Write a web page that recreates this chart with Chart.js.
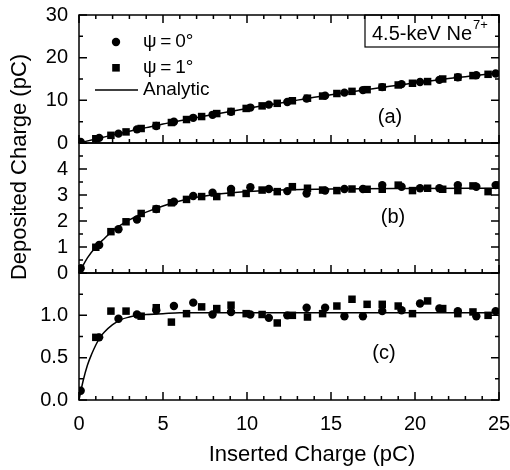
<!DOCTYPE html>
<html>
<head>
<meta charset="utf-8">
<script src="https://cdn.jsdelivr.net/npm/chart.js@4.4.0/dist/chart.umd.min.js"></script>
<style>
  html, body { margin: 0; padding: 0; background: #fff; }
  #wrap { width: 510px; height: 470px; }
</style>
</head>
<body>
<div id="wrap"><canvas id="chargeChart" width="510" height="470"></canvas></div>
<script>
// Inserted charge (pC) of each measurement, psi = 0 deg (circles) and psi = 1 deg (squares)
const circleX = [0.1, 1.2, 2.35, 3.45, 4.6, 5.65, 6.8, 7.95, 9.05, 10.2, 11.3, 12.4, 13.55, 14.65, 15.8, 16.9, 18.05, 19.2, 20.3, 21.45, 22.55, 23.65, 24.8];
const squareX = [1.0, 1.9, 2.8, 3.7, 4.6, 5.5, 6.4, 7.3, 8.2, 9.05, 9.95, 10.9, 11.8, 12.7, 13.6, 14.5, 15.35, 16.25, 17.15, 18.05, 19.0, 19.85, 20.75, 21.65, 22.55, 23.45, 24.35];

// (a) deposited charge
const circleA = [0.25, 1.2, 2.2, 3.2, 4.0, 5.0, 5.9, 6.6, 7.3, 8.3, 9.0, 9.6, 10.4, 11.1, 11.8, 12.4, 13.1, 13.8, 14.3, 14.8, 15.4, 15.9, 16.3];
const squareA = [1.0, 1.8, 2.6, 3.4, 4.1, 4.8, 5.5, 6.2, 6.9, 7.4, 8.1, 8.7, 9.3, 9.9, 10.5, 11.0, 11.6, 12.1, 12.5, 13.1, 13.6, 14.0, 14.4, 15.0, 15.4, 15.8, 16.1];
// (b)
const circleB = [0.18, 1.08, 1.68, 2.06, 2.46, 2.74, 2.96, 3.09, 3.23, 3.30, 3.23, 3.15, 3.06, 3.17, 3.23, 3.23, 3.38, 3.32, 3.26, 3.26, 3.38, 3.32, 3.38];
const squareB = [0.99, 1.59, 1.97, 2.29, 2.46, 2.70, 2.83, 2.94, 2.94, 3.09, 3.06, 3.19, 3.13, 3.32, 3.26, 3.19, 3.17, 3.23, 3.22, 3.22, 3.38, 3.17, 3.26, 3.22, 3.17, 3.35, 3.13];
// (c)
const circleC = [0.11, 0.74, 0.96, 1.01, 1.06, 1.11, 1.15, 1.01, 1.04, 1.01, 0.97, 1.00, 1.09, 1.09, 0.99, 0.99, 1.05, 1.06, 1.14, 1.08, 1.05, 0.99, 1.05];
const squareC = [0.74, 1.05, 1.05, 0.99, 1.09, 0.92, 1.02, 1.10, 1.08, 1.12, 1.02, 1.01, 0.91, 1.00, 0.98, 1.02, 1.11, 1.19, 1.13, 1.13, 1.11, 1.02, 1.17, 1.08, 1.02, 1.04, 1.00];

// Analytic curves
const fitXA = [0, 1, 2, 3, 4, 5, 6, 7, 8, 9, 10, 11, 12, 13, 14, 15, 16, 17, 18, 19, 20, 21, 22, 23, 24, 25];
const fitA = [0, 0.95, 1.85, 2.75, 3.6, 4.45, 5.2, 5.95, 6.7, 7.4, 8.1, 8.75, 9.4, 10.05, 10.7, 11.3, 11.9, 12.45, 13.0, 13.55, 14.1, 14.6, 15.1, 15.55, 16.0, 16.4];
const fitXB = [0, 0.5, 1, 1.5, 2, 2.5, 3, 3.5, 4, 5, 6, 7, 8, 10, 12, 15, 20, 25];
const fitB = [0, 0.58, 1.0, 1.32, 1.62, 1.85, 2.04, 2.2, 2.34, 2.58, 2.77, 2.91, 3.01, 3.13, 3.19, 3.23, 3.25, 3.26];
const fitXC = [0, 0.25, 0.5, 0.75, 1, 1.25, 1.5, 2, 2.5, 3, 3.5, 4, 5, 6, 8, 12, 16, 20, 25];
const fitC = [0, 0.23, 0.41, 0.54, 0.65, 0.74, 0.8, 0.89, 0.95, 0.98, 1.0, 1.01, 1.02, 1.03, 1.03, 1.03, 1.03, 1.03, 1.03];

// Axis ranges: [min, max, major step, minor step]
const xRange = [0, 25, 5, 1];
const rangeA = [0, 30, 10, 5];
const rangeB = [0, 5, 1, 0.5];
const rangeC = [0, 1.5, 0.5, 0.25];

const FONT = '"Liberation Sans", Arial, Helvetica, sans-serif';
const INK = "#000";

function pts(xs, ys) {
  return xs.map((x, i) => ({ x: x, y: ys[i] }));
}

function markers(xs, ys, axis, style) {
  return {
    data: pts(xs, ys),
    yAxisID: axis,
    pointStyle: style,
    pointRadius: style === "rect" ? 5.3 : 4.2,
    backgroundColor: INK,
    borderColor: INK,
    borderWidth: 0,
  };
}

function curve(xs, ys, axis) {
  return {
    data: pts(xs, ys),
    yAxisID: axis,
    showLine: true,
    pointRadius: 0,
    borderColor: INK,
    borderWidth: 1.5,
    cubicInterpolationMode: "monotone",
    fill: false,
  };
}

// tick labels may hang past the plot edges without shrinking it
function noOverhang(s) {
  s.paddingTop = 0;
  s.paddingBottom = 0;
  s.paddingLeft = 0;
  s.paddingRight = 0;
}

function yAxis(range, weight, fmt) {
  return {
    type: "linear",
    position: "left",
    stack: "panels",
    stackWeight: weight,
    min: range[0],
    max: range[1],
    grid: { display: false, drawTicks: false },
    border: { display: false },
    ticks: {
      stepSize: range[2],
      autoSkip: false,
      padding: 11,
      color: INK,
      font: { family: FONT, size: 20 },
      callback: fmt,
    },
    afterFit: function (s) {
      s.width = 79;
      noOverhang(s);
    },
  };
}

// Boxes around each panel with inward tick marks on all sides
const panelFrames = {
  id: "panelFrames",
  afterDatasetsDraw(chart) {
    const { ctx, chartArea: ca, scales } = chart;
    const xs = scales.x;
    ctx.save();
    ctx.strokeStyle = INK;
    ctx.lineWidth = 1.5;

    const panels = [["ya", rangeA], ["yb", rangeB], ["yc", rangeC]];
    panels.forEach(([id, r], idx) => {
      const s = scales[id];
      ctx.strokeRect(ca.left, s.top, ca.right - ca.left, s.bottom - s.top);

      ctx.beginPath();
      for (let v = r[0]; v <= r[1] + 1e-9; v += r[3]) {
        const major = Math.abs(v / r[2] - Math.round(v / r[2])) < 1e-6;
        const len = major ? 8 : 4;
        const py = s.getPixelForValue(v);
        ctx.moveTo(ca.left, py); ctx.lineTo(ca.left + len, py);
        ctx.moveTo(ca.right, py); ctx.lineTo(ca.right - len, py);
      }
      for (let v = xRange[0]; v <= xRange[1] + 1e-9; v += xRange[3]) {
        const major = Math.abs(v / xRange[2] - Math.round(v / xRange[2])) < 1e-6;
        const len = major ? 8 : 4;
        const px = xs.getPixelForValue(v);
        ctx.moveTo(px, s.bottom); ctx.lineTo(px, s.bottom - len);
        if (idx === 0) { ctx.moveTo(px, s.top); ctx.lineTo(px, s.top + len); }
      }
      ctx.stroke();
    });
    ctx.restore();
  },
  afterDraw(chart) {
    const { ctx, chartArea: ca } = chart;
    ctx.save();
    ctx.fillStyle = INK;
    ctx.strokeStyle = INK;

    // axis titles
    ctx.font = "22px " + FONT;
    ctx.textAlign = "center";
    ctx.textBaseline = "alphabetic";
    ctx.fillText("Inserted Charge (pC)", 312, 461);
    ctx.save();
    ctx.translate(26, 167);
    ctx.rotate(-Math.PI / 2);
    ctx.fillText("Deposited Charge (pC)", 0, 0);
    ctx.restore();

    // legend
    ctx.beginPath();
    ctx.arc(116, 42, 4.2, 0, Math.PI * 2);
    ctx.fill();
    ctx.fillRect(112.2, 64, 7.6, 7.6);
    ctx.lineWidth = 1.5;
    ctx.beginPath();
    ctx.moveTo(95, 90); ctx.lineTo(138, 90);
    ctx.stroke();
    ctx.font = "19px " + FONT;
    ctx.textAlign = "left";
    ctx.textBaseline = "middle";
    ctx.fillText("\u03c8\u2009=\u20090\u00b0", 143, 42);
    ctx.fillText("\u03c8\u2009=\u20091\u00b0", 143, 68);
    ctx.fillText("Analytic", 143, 90);

    // projectile label box
    ctx.lineWidth = 1.2;
    ctx.strokeRect(365, ca.top, ca.right - 365, 32);
    ctx.font = "20px " + FONT;
    ctx.textBaseline = "alphabetic";
    ctx.fillText("4.5-keV Ne", 372, 40);
    const w = ctx.measureText("4.5-keV Ne").width;
    ctx.font = "13px " + FONT;
    ctx.fillText("7+", 372 + w + 1, 29);

    // panel labels
    ctx.font = "20px " + FONT;
    ctx.textAlign = "center";
    ctx.textBaseline = "middle";
    ctx.fillText("(a)", 390, 117);
    ctx.fillText("(b)", 393, 217);
    ctx.fillText("(c)", 384, 353);
    ctx.restore();
  },
};

new Chart(document.getElementById("chargeChart"), {
  type: "scatter",
  data: {
    datasets: [
      markers(circleX, circleA, "ya", "circle"),
      markers(squareX, squareA, "ya", "rect"),
      markers(circleX, circleB, "yb", "circle"),
      markers(squareX, squareB, "yb", "rect"),
      markers(circleX, circleC, "yc", "circle"),
      markers(squareX, squareC, "yc", "rect"),
      curve(fitXA, fitA, "ya"),
      curve(fitXB, fitB, "yb"),
      curve(fitXC, fitC, "yc"),
    ],
  },
  options: {
    responsive: false,
    animation: false,
    layout: { padding: { top: 15, right: 11, left: 0, bottom: 0 } },
    plugins: { legend: { display: false }, tooltip: { enabled: false } },
    scales: {
      x: {
        type: "linear",
        position: "bottom",
        min: xRange[0],
        max: xRange[1],
        grid: { display: false, drawTicks: false },
        border: { display: false },
        ticks: {
          stepSize: xRange[2],
          autoSkip: false,
          maxRotation: 0,
          padding: 12,
          color: INK,
          font: { family: FONT, size: 20 },
        },
        afterFit: function (s) {
          s.height = 70;
          noOverhang(s);
        },
      },
      yc: yAxis(rangeC, 127, (v) => (v === rangeC[1] ? "" : v.toFixed(1))),
      yb: yAxis(rangeB, 130, (v) => (v === rangeB[1] ? "" : v)),
      ya: yAxis(rangeA, 128, (v) => v),
    },
  },
  plugins: [panelFrames],
});
</script>
</body>
</html>
